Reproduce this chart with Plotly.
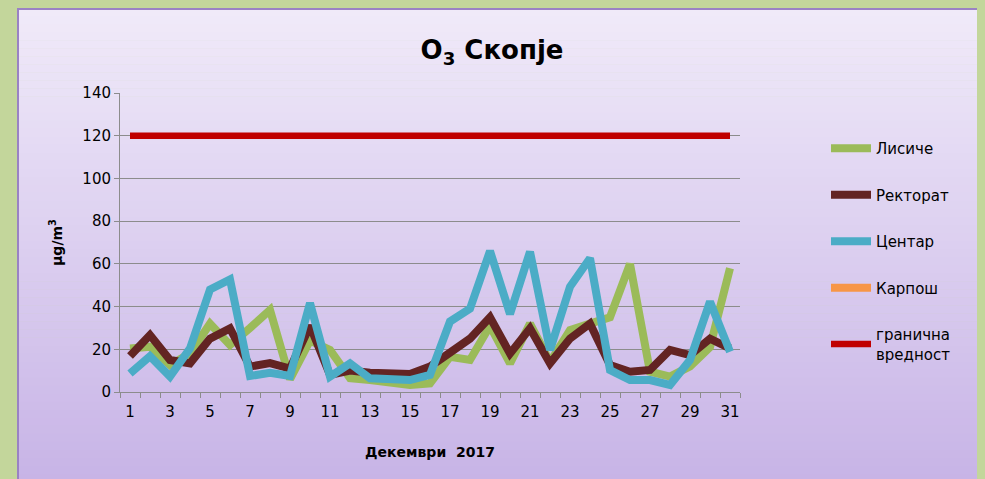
import plotly.graph_objects as go

days = list(range(1, 32))
lisiche = [20.4, 21.2, 12.6, 18, 32, 22, 30, 38.4, 6, 24, 19.7, 6.5, 5.6, 4.8, 3.3, 4, 16.5, 15, 31, 13.4,
           32, 14, 29, 32, 35, 60, 9.5, 7.2, 12, 21, 57.9]
rektorat = [16.8, 26.7, 15, 13.4, 25, 29.8, 11.9, 13.5, 11, 31, 8, 10, 9, 9, 8.4, 11.9, 19, 25, 35, 18,
            29.8, 13.4, 25, 32, 12.6, 9.5, 10.3, 19.7, 17.3, 25, 20.4]
centar = [8.7, 16.8, 7.2, 20.4, 48, 52.7, 7.5, 9, 7.5, 41.6, 7.2, 13.4, 6.4, 6, 5.6, 8, 33, 39, 66, 36.5,
          65.7, 19.7, 49.3, 62.6, 10.3, 5.6, 5.6, 3.3, 15, 42.3, 18.9]
karposh = [None] * 31
limit = [120] * 31

names = ["Лисиче", "Ректорат", "Центар", "Карпош", "гранична<br>вредност"]
colors = ["#9bbb59", "#632423", "#4bacc6", "#f79646", "#c00000"]
widths = [8, 8, 8, 8, 6.5]
series = [lisiche, rektorat, centar, karposh, limit]

OFF = 8  # page body offset
W, H = 985 - OFF, 479 - OFF
# plot area in screen pixels
SL, SR, ST, SB = 120, 740, 93, 392
L, R, T, B = SL - OFF, SR - OFF, ST - OFF, SB - OFF
pw, ph = R - L, B - T

def sx(px):
    return (px - OFF - L) / pw

def sy(py):
    return (B - (py - OFF)) / ph

fig = go.Figure()
for i, (n, c, w, s) in enumerate(zip(names, colors, widths, series)):
    fig.add_trace(go.Scatter(x=days, y=s, mode="lines", name=n, legendgroup=str(i),
                             line=dict(color=c, width=w), connectgaps=False))

# gradient background strips
shapes = []
top_c = (240, 234, 249)
bot_c = (199, 179, 230)
y0p, y1p = 8, 490
n = 60
for k in range(n):
    a = y0p + (y1p - y0p) * k / n
    b = y0p + (y1p - y0p) * (k + 1) / n
    t = k / (n - 1)
    col = tuple(round(top_c[j] + (bot_c[j] - top_c[j]) * t) for j in range(3))
    shapes.append(dict(type="rect", xref="paper", yref="paper", layer="below",
                       x0=sx(18), x1=sx(984), y0=sy(b + 0.5), y1=sy(a),
                       fillcolor="rgb(%d,%d,%d)" % col, line=dict(width=0)))
shapes.append(dict(type="rect", xref="paper", yref="paper", layer="below",
                   x0=sx(18), x1=sx(984), y0=sy(495), y1=sy(9),
                   fillcolor="rgba(0,0,0,0)", line=dict(color="#9a82c4", width=2)))

font_fam = "Comic Sans MS, DejaVu Sans, sans-serif"

fig.update_layout(
    width=W, height=H,
    margin=dict(l=L, r=W - R, t=T, b=H - B),
    paper_bgcolor="#c3d69b",
    plot_bgcolor="rgba(0,0,0,0)",
    shapes=shapes,
    font=dict(family=font_fam, color="#000000", size=14),
    title=dict(text="<b>O<sub>3</sub> Скопје</b>", x=(492 - OFF) / W, xref="container",
               xanchor="center", y=1 - (50 - OFF) / H, yref="container", yanchor="middle",
               font=dict(size=26)),
    showlegend=True,
    legend=dict(x=sx(826), y=sy(132), xanchor="left", yanchor="top",
                bgcolor="rgba(0,0,0,0)", tracegroupgap=24, font=dict(size=15),
                itemwidth=40),
    xaxis=dict(range=[0.5, 31.5], tick0=1, dtick=2, ticks="", showgrid=False,
               showline=True, linecolor="#8c8c8c", linewidth=1,
               tickfont=dict(size=15), ticklabelstandoff=6,
               minor=dict(tick0=0.5, dtick=1, ticks="outside", ticklen=5, tickcolor="#8c8c8c",
                          showgrid=False),
               title=dict(text="<b>Декември  2017</b>", font=dict(size=14), standoff=27),
               zeroline=False),
    yaxis=dict(range=[0, 140], dtick=20, ticks="outside", ticklen=5, tickcolor="#8c8c8c",
               showgrid=True, gridcolor="#8c8c8c", gridwidth=1, showline=True,
               linecolor="#8c8c8c", linewidth=1, zeroline=False,
               tickfont=dict(size=15),
               title=dict(text="<b>μg/m<sup>3</sup></b>", font=dict(size=14), standoff=16)),
)

fig.write_html("out.html", post_script="document.body.style.background='#c3d69b';")
